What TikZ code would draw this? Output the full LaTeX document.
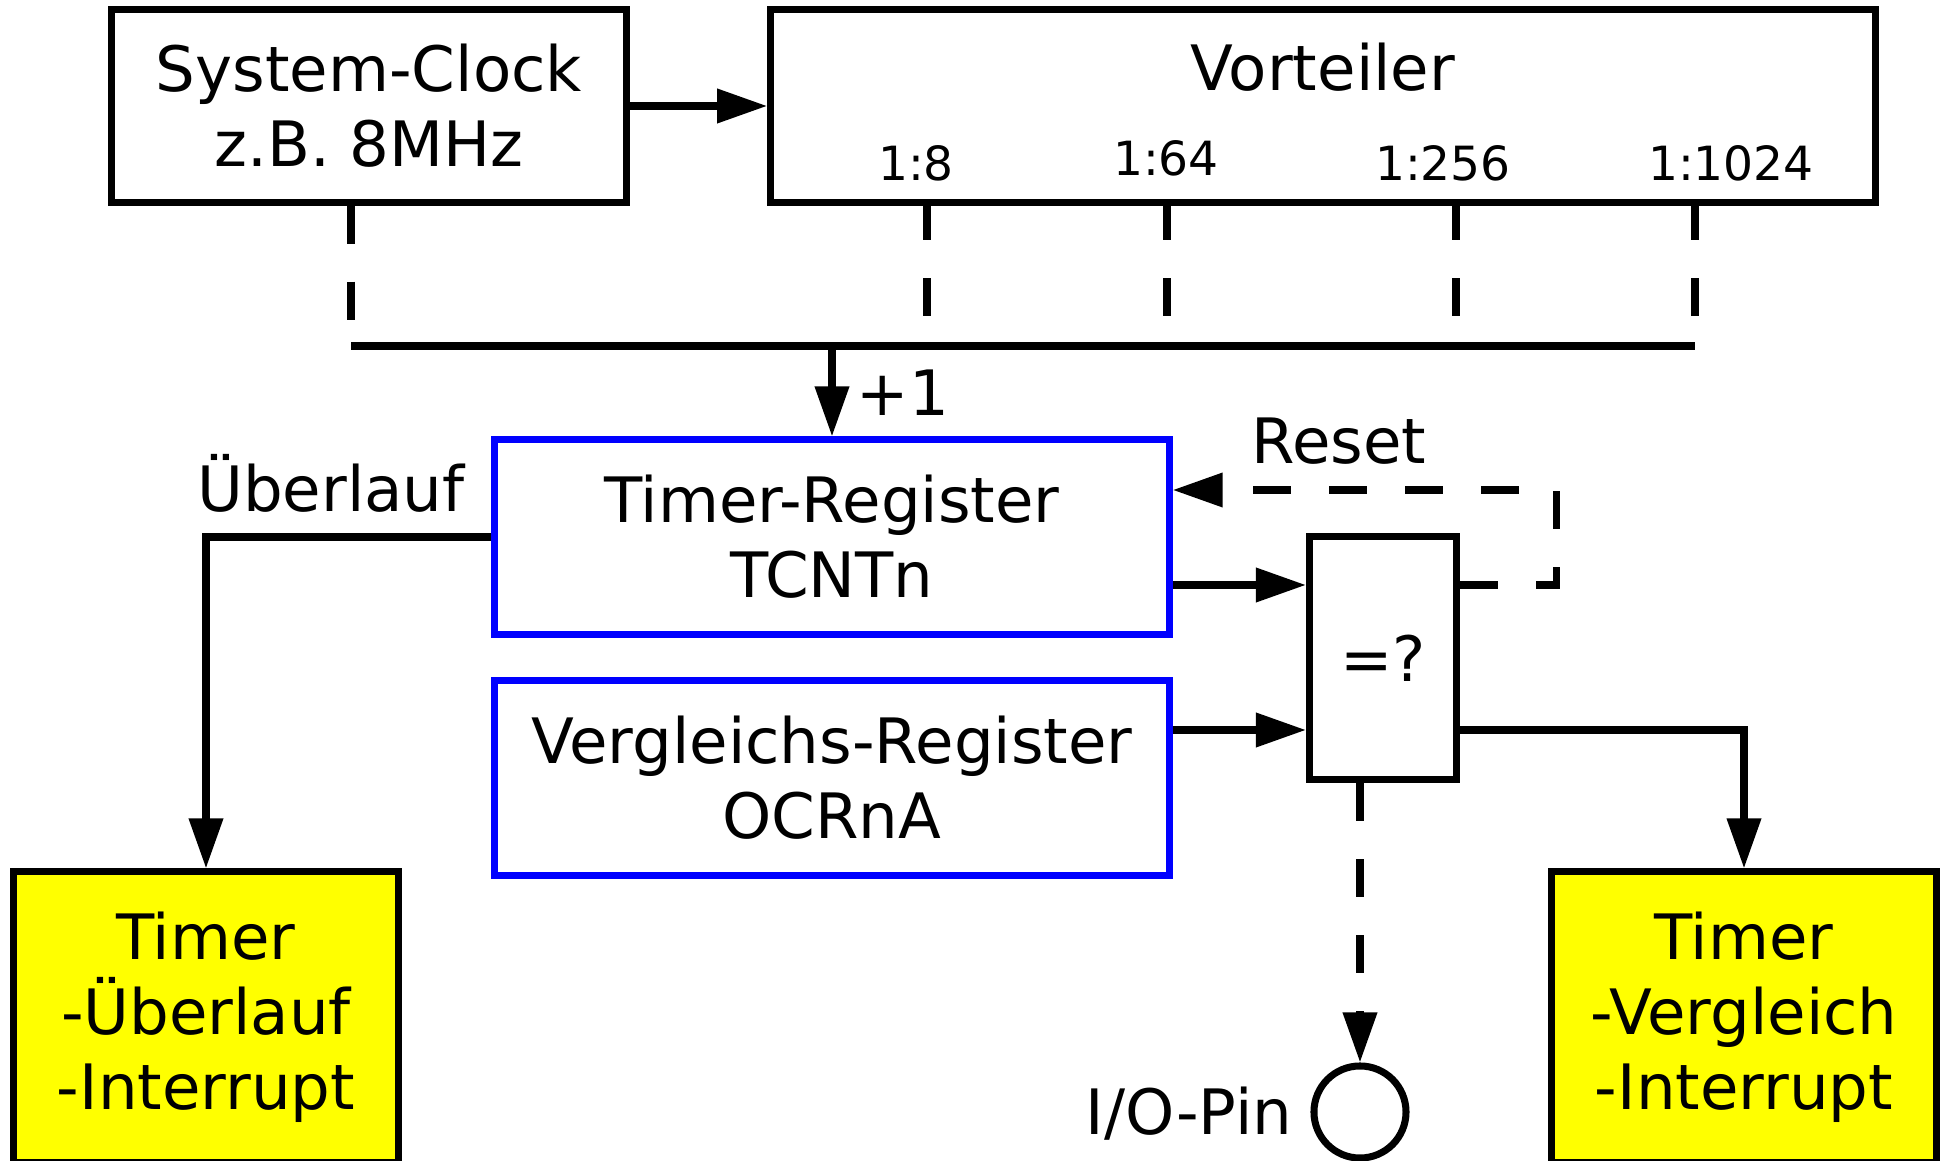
\documentclass[tikz,border=0pt]{standalone}
\usepackage{fontspec}
\setmainfont{DejaVu Sans}
\usepackage{tikz}
\usetikzlibrary{calc,arrows.meta}
\usetikzlibrary{shapes.geometric}
\definecolor{reg-blue}{HTML}{0000FF}
\definecolor{irq-yellow}{HTML}{FFFF00}

\tikzset{
  box/.style={draw, line width=2pt, inner sep=0pt, align=center, font=\fontsize{17.8pt}{21.3pt}\selectfont},
  regbox/.style={box, draw=reg-blue, minimum width=6.74cm, minimum height=1.94cm},
  irqbox/.style={box, fill=irq-yellow, minimum width=3.85cm, minimum height=2.90cm},
  lbl/.style={inner sep=0pt, anchor=base, font=\fontsize{17.8pt}{21.3pt}\selectfont},
  ratio/.style={inner sep=0pt, anchor=base, font=\fontsize{13.4pt}{16pt}\selectfont},
  wire/.style={line width=2pt},
  dashwire/.style={wire, dash pattern=on 0.38cm off 0.38cm},
}

\begin{document}
\begin{tikzpicture}[x=0.01cm, y=-0.01cm, >={Triangle[length=0.5cm,width=0.33cm]}]

    \useasboundingbox (0,0) rectangle (1944,1161);
    \clip (0,0) rectangle (1944,1161);

    % --- Takt und Vorteiler ---
    \node[box, minimum width=5.14cm, minimum height=1.92cm] (clock) at (369,106) {System-Clock\\z.B. 8MHz};
    \node[box, minimum width=11.04cm, minimum height=1.92cm] (vort) at (1323,106) {};
    \node[lbl] (vorttxt) at (1323,91) {Vorteiler};
    \draw[wire, ->] (clock.east) -- (vort.west);

    % Teilerverhaeltnisse
    \foreach \lx/\ly/\txt [count=\i] in {916/181/1:8, 1166/176/1:64, 1443/181/1:256, 1731/181/1:1024}
        \node[ratio] (ratio\i) at (\lx,\ly) {\txt};

    % --- Abgriffe auf die Sammelleitung ---
    \coordinate (busL) at (351,346);
    \coordinate (busR) at (1695,346);
    \foreach \tx [count=\i] in {927,1167,1456,1695}
        \coordinate (tap\i) at (\tx,202);
    \draw[dashwire] (clock.south -| busL) -- (busL);
    \foreach \i in {1,...,4}
        \draw[dashwire] (tap\i) -- (tap\i |- busL);
    \draw[wire] (busL) -- (busR);

    % --- Register ---
    \node[regbox] (tcnt) at (832,537) {Timer-Register\\TCNTn};
    \node[regbox] (ocr) at (832,778) {Vergleichs-Register\\OCRnA};
    \draw[wire, ->] (tcnt.north |- busL) -- (tcnt.north);
    \node[lbl] (plus) at (903,416) {+1};

    % --- Vergleicher ---
    \node[box, minimum width=1.47cm, minimum height=2.43cm] (cmp) at (1383,658) {=?};
    \draw[wire, ->] ($(tcnt.east)+(0,48)$) -- ($(cmp.west)+(0,-73)$);
    \draw[wire, ->] ($(ocr.east)+(0,-48)$) -- ($(cmp.west)+(0,72)$);
    \draw[dashwire, ->] ($(cmp.east)+(0,-73)$) -- ++(96,0) |- ($(tcnt.east)+(0,-47)$);
    \node[lbl] (reset) at (1339,464) {Reset};

    % --- Interrupts ---
    \node[irqbox] (ovf) at (206,1017) {Timer\\-Überlauf\\-Interrupt};
    \draw[wire, ->] (tcnt.west) -| (ovf.north);
    \node[lbl] (ovftxt) at (331,512) {Überlauf};

    \node[irqbox] (cmpirq) at (1744,1017) {Timer\\-Vergleich\\-Interrupt};
    \draw[wire, ->] ($(cmp.east)+(0,72)$) -| (cmpirq.north);

    % --- Ausgangspin ---
    \node[circle, draw, line width=2pt, minimum size=0.92cm, inner sep=0pt] (pin) at (1360,1112) {};
    \draw[dashwire, ->] (pin.north |- cmp.south) -- (pin.north);
    \node[lbl, anchor=base east] (pintxt) at (1293,1135) {I/O-Pin};

\end{tikzpicture}
\end{document}
